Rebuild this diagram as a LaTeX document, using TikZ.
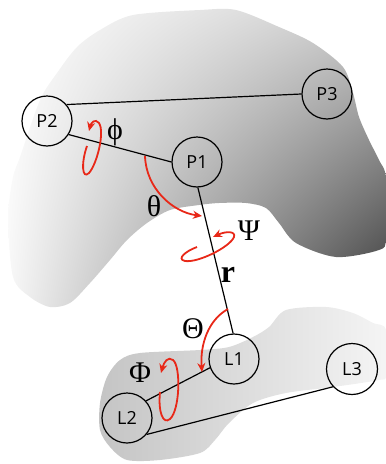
\documentclass[tikz,border=0pt]{standalone}
\usepackage{fontspec}
\setmainfont{Liberation Serif}
\newfontfamily\labelfont{Open Sans}
\usetikzlibrary{arrows.meta,shadings}
\definecolor{rotarc}{RGB}{232,40,24}
\pgfdeclarehorizontalshading{lowpocket}{100bp}{rgb(0bp)=(0.77,0.77,0.77); rgb(25bp)=(0.77,0.77,0.77); rgb(75bp)=(0.96,0.96,0.96); rgb(100bp)=(0.96,0.96,0.96)}
\begin{document}
\begin{tikzpicture}[x=1pt,y=-1pt,
  atom/.style={circle,draw=black,line width=1.2pt,minimum size=50pt,inner sep=0pt,
    font=\labelfont\fontsize{18}{18}\selectfont},
  bond/.style={line width=1.2pt,draw=black},
  rot/.style={draw=rotarc,line width=1.8pt,-{Stealth[length=9pt,width=8pt]}},
  greek/.style={font=\fontsize{30}{30}\selectfont,inner sep=0pt}]
\useasboundingbox (0,0) rectangle (386,464);
% pocket surfaces
\shade[upper left=white, lower left=black!3, upper right=black!20, lower right=black!78]
  plot[smooth cycle, tension=0.5] coordinates {
  (200,10) (236,10) (279,27) (313,43) (343,67) (353,93) (359,117) (369,140)
  (379,160) (386,178) (386,238) (379,250) (336,257) (296,243) (279,223) (266,208)
  (246,203) (219,203) (199,205) (170,210) (147,223) (127,240) (110,260) (90,283)
  (70,303) (50,307) (30,297) (13,277) (8,217) (13,177) (20,157) (40,100)
  (57,73) (77,47) (100,30) (133,15)};
\shade[shading=lowpocket]
  plot[smooth cycle, tension=0.5] coordinates {
  (107,377) (120,360) (140,353) (200,350) (229,347) (253,337) (269,327) (286,310)
  (326,307) (353,313) (373,323) (386,330) (386,375) (379,380) (333,387) (286,393)
  (253,403) (229,423) (215,440) (200,453) (160,460) (127,460) (110,447) (100,430)
  (100,403)};
% atoms
\node[atom] (P2) at (47,121) {P2};
\node[atom] (P3) at (327,94) {P3};
\node[atom] (P1) at (197,162) {P1};
\node[atom] (L1) at (234,359) {L1};
\node[atom] (L2) at (127,418) {L2};
\node[atom,minimum size=51pt] (L3) at (352,369) {L3};
% bonds
\draw[bond] (P2.40) -- (P3.180);
\draw[bond] (P2.-32) -- (P1.180);
\draw[bond] (P1.-88) -- (L1.92);
\draw[bond] (L1.200) -- (L2.42);
\draw[bond] (L2.-40) -- (L3.-137);
% rotations
\draw[rot] (87,146) .. controls (81,163) and (82,180) .. (89,173)
  .. controls (97,164) and (105,132) .. (99,123)
  .. controls (95,118) and (91,123) .. (89,131);
\draw[rot] (145,156) .. controls (146,188) and (172,212) .. (202,216);
\draw[rot] (197,247) .. controls (186,251) and (176,259) .. (185,261)
  .. controls (198,263) and (230,247) .. (234,237)
  .. controls (236,231) and (226,231) .. (213,237);
\draw[rot] (228,309) .. controls (208,320) and (200,345) .. (202,372);
\draw[rot] (160,392) .. controls (158,412) and (163,425) .. (170,419)
  .. controls (180,410) and (181,366) .. (173,360)
  .. controls (168,356) and (164,362) .. (161,373);
% labels
\node[greek] (phi) at (115,132) {ϕ};
\node[greek] (theta) at (154,206) {θ};
\node[greek] (Psi) at (249,231) {Ψ};
\node[font=\fontsize{32}{32}\selectfont\bfseries,inner sep=0pt] (r) at (228,275) {r};
\node[greek] (Theta) at (193,329) {Θ};
\node[greek] (Phi) at (140,373) {Φ};
\end{tikzpicture}
\end{document}
